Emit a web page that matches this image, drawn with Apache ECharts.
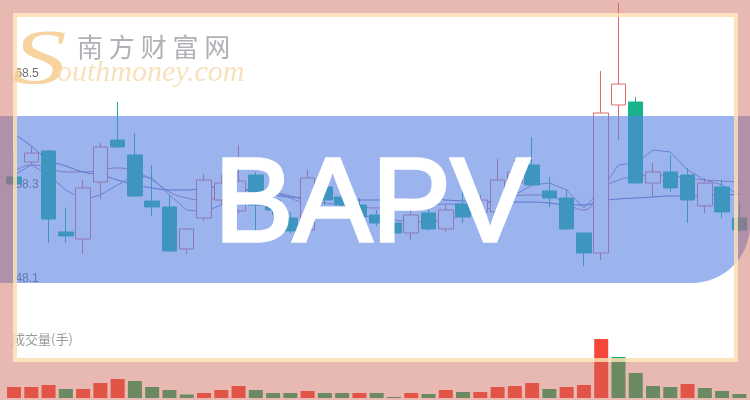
<!DOCTYPE html>
<html><head><meta charset="utf-8">
<script src="https://cdn.jsdelivr.net/npm/echarts@6/dist/echarts.min.js"></script>
<style>html,body{margin:0;padding:0;background:#fff}#c{width:750px;height:400px}</style>
</head><body><div id="c"></div>
<script>
const days = ['D1','D2','D3','D4','D5','D6','D7','D8','D9','D10','D11','D12','D13','D14','D15','D16','D17','D18','D19','D20','D21','D22','D23','D24','D25','D26','D27','D28','D29','D30','D31','D32','D33','D34','D35','D36','D37','D38','D39','D40','D41','D42','D43'];
const kOpen  = [58.25,59.74,60.84,52.78,52.08,57.75,61.93,60.44,55.86,55.27,51.09,54.17,55.96,54.87,58.45,55.96,54.17,52.98,57.26,56.26,55.47,54.47,53.67,52.68,54.67,53.08,55.56,54.77,54.77,57.65,59.45,56.86,56.16,52.68,50.69,65.42,65.71,57.65,58.75,58.45,55.37,57.26,54.17];
const kClose = [57.55,60.64,54.07,52.38,57.16,61.24,61.24,56.36,55.27,50.89,53.08,57.95,57.65,57.85,55.47,54.97,52.88,58.15,55.96,55.47,54.27,53.67,52.68,54.47,53.08,54.97,54.27,55.96,57.95,58.75,57.46,56.16,53.08,50.69,64.62,67.50,57.65,58.75,57.16,55.96,57.65,54.77,52.98];
const kLow   = [57.16,59.45,51.68,51.68,50.59,56.06,61.14,56.26,54.37,50.79,50.59,53.87,55.47,54.67,52.48,54.47,52.68,52.78,55.47,54.97,53.77,53.38,52.38,51.98,52.88,52.78,53.67,54.47,54.17,57.46,57.36,55.27,52.98,49.40,49.99,61.93,57.65,56.26,56.76,53.67,54.67,54.17,52.78];
const kHigh  = [60.94,61.24,60.94,55.17,57.95,61.63,65.71,62.63,59.45,56.46,53.18,58.55,58.45,61.44,58.75,56.46,54.77,58.95,57.95,56.96,56.16,54.97,54.17,56.16,55.17,55.47,56.96,56.46,60.04,59.94,62.23,58.25,57.06,52.68,68.80,75.56,66.21,59.64,60.44,59.15,58.15,57.95,55.66];
const maA = [62.53,61.34,59.94,59.35,58.75,58.45,57.95,57.46,57.16,56.96,56.96,57.16,57.26,57.16,56.76,56.46,56.26,56.16,56.16,56.06,55.96,55.96,55.96,56.06,56.06,55.96,55.86,55.76,55.76,55.76,55.76,55.66,55.47,55.47,55.86,56.06,56.16,56.26,56.36,56.36,56.46,56.46,56.56];
const maB = [58.75,59.45,59.15,58.75,58.75,58.95,59.15,58.75,57.95,56.76,56.16,55.96,56.36,56.76,56.96,56.76,56.36,55.96,55.66,55.47,55.27,55.17,55.17,55.37,55.47,55.56,55.56,55.66,55.96,56.36,56.46,56.36,55.56,54.97,56.96,57.95,58.25,58.45,58.35,58.15,57.95,57.85,57.75];
const maC = [58.45,59.45,58.45,56.96,55.96,56.46,57.46,58.45,58.15,56.46,54.97,54.77,55.47,56.46,56.76,56.76,56.16,55.47,55.17,54.97,54.47,54.17,53.97,53.77,53.77,53.97,54.47,54.77,55.47,56.46,57.46,57.65,56.96,55.17,56.96,59.45,59.64,60.94,60.74,58.95,57.95,57.46,56.46];
const volume = [1100,1100,1300,900,900,1500,1900,1700,1100,800,350,500,800,1200,800,500,500,700,500,500,500,500,100,500,400,800,600,600,1100,1200,1500,900,1100,1300,5900,4100,2500,1200,1100,1400,1000,700,400];
const volumeUp = [1,1,1,0,1,1,1,0,0,0,0,1,1,1,0,0,0,1,0,0,1,0,0,1,0,1,0,1,1,1,1,0,1,1,1,0,0,0,0,1,0,0,0];
const priceTicks = [48.1, 58.3, 68.5];
const bannerTitle = 'BAPV';
const siteName = '南 方 财 富 网';
const siteUrl = 'outhmoney.com';
const volumeLabel = '成交量(手)';

const chart = echarts.init(document.getElementById('c'), null, {renderer: 'canvas'});
const kData = days.map((d, i) => [kOpen[i], kClose[i], kLow[i], kHigh[i]]);
const volData = volume.map((v, i) => ({value: v, itemStyle: {color: volumeUp[i] ? '#f5483a' : '#1caa6c'}}));
const pink = 'rgba(205,100,85,0.45)';

chart.setOption({
  animation: false,
  backgroundColor: '#ffffff',
  grid: [
    {left: 5.4, width: 742.6, top: 74, height: 205},
    {left: 5.4, width: 742.6, top: 338, height: 60}
  ],
  xAxis: [
    {type: 'category', data: days, gridIndex: 0, show: false, boundaryGap: true},
    {type: 'category', data: days, gridIndex: 1, show: false, boundaryGap: true}
  ],
  yAxis: [
    {type: 'value', gridIndex: 0, min: 48.1, max: 68.5, splitLine: {show: false}, axisLine: {show: false}, axisTick: {show: false},
     axisLabel: {inside: true, margin: 10, color: '#6e6e6e', fontSize: 12, fontFamily: 'Liberation Sans, Arial',
       customValues: priceTicks,
       formatter: v => Math.abs(v - priceTicks[1]) < 1e-6 ? '{m|' + v.toFixed(1) + '}' : v.toFixed(1),
       rich: {m: {padding: [16, 0, 0, 0], color: '#6e6e6e', fontSize: 12}}}},
    {type: 'value', gridIndex: 1, min: 0, max: 6000, show: false}
  ],
  series: [
    {type: 'line', xAxisIndex: 0, yAxisIndex: 0, data: maA, symbol: 'none', smooth: true, z: 1,
     lineStyle: {color: '#5a5ea8', width: 1}},
    {type: 'line', xAxisIndex: 0, yAxisIndex: 0, data: maB, symbol: 'none', smooth: true, z: 1,
     lineStyle: {color: '#b06a98', width: 1}},
    {type: 'line', xAxisIndex: 0, yAxisIndex: 0, data: maC, symbol: 'none', smooth: false, z: 1,
     lineStyle: {color: '#8d7cc4', width: 1}},
    {type: 'candlestick', xAxisIndex: 0, yAxisIndex: 0, data: kData, barWidth: 15, clip: false, z: 3,
     itemStyle: {color: '#ffffff', borderColor: '#e06a6a', color0: '#18b28c', borderColor0: '#18b28c', borderWidth: 1}},
    {type: 'bar', xAxisIndex: 1, yAxisIndex: 1, data: volData, barWidth: 14, z: 3}
  ],
  graphic: [
    {type: 'text', left: 12, top: 333, z: 1, style: {text: volumeLabel, fill: '#9a9a9a', fontSize: 13, fontFamily: 'Noto Sans CJK SC'}},
    {type: 'rect', z: 20, shape: {x: 0, y: 116, width: 750, height: 167, r: [0, 0, 58, 0]}, style: {fill: 'rgba(88,130,227,0.6)'}},
    {type: 'rect', z: 30, shape: {x: 0, y: 0, width: 750, height: 13}, style: {fill: pink}},
    {type: 'rect', z: 30, shape: {x: 0, y: 362, width: 750, height: 38}, style: {fill: pink}},
    {type: 'rect', z: 30, shape: {x: 0, y: 13, width: 13, height: 349}, style: {fill: pink}},
    {type: 'rect', z: 30, shape: {x: 738, y: 13, width: 12, height: 349}, style: {fill: pink}},
    {type: 'rect', z: 31, shape: {x: 15, y: 15, width: 721, height: 345}, style: {fill: 'none', stroke: 'rgba(253,222,178,0.85)', lineWidth: 4}},
    {type: 'text', z: 40, x: 372, y: 208, style: {text: bannerTitle, fill: '#ffffff', stroke: '#ffffff', lineWidth: 3.5, fontSize: 118, fontWeight: 'normal', fontFamily: 'Liberation Sans, Arial', align: 'center', verticalAlign: 'middle'}},
    {type: 'text', z: 40, x: 20, y: 62, scaleX: 1.4, originX: 20, originY: 62, style: {text: 'S', fill: 'rgba(246,206,150,0.9)', fontSize: 78, fontStyle: 'italic', fontFamily: 'Liberation Serif', align: 'left', verticalAlign: 'middle'}},
    {type: 'text', z: 40, x: 77, y: 47, style: {text: siteName, fill: 'rgba(150,150,158,0.75)', fontSize: 26, fontFamily: 'Noto Sans CJK SC', align: 'left', verticalAlign: 'middle'}},
    {type: 'text', z: 40, x: 57, y: 73, style: {text: siteUrl, fill: 'rgba(247,221,180,0.9)', fontSize: 30, fontStyle: 'italic', fontFamily: 'Liberation Serif', align: 'left', verticalAlign: 'middle'}}
  ]
});
</script></body></html>
